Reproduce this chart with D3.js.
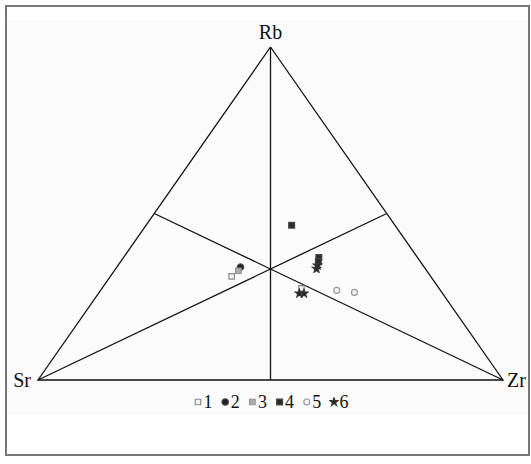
<!DOCTYPE html>
<html>
<head>
    <style>
        body { margin: 0; background: #fff; }
        text { font-family: "Liberation Serif", "Times New Roman", serif; fill: #111; }
        .edge { stroke: #111; stroke-width: 1.3; fill: none; }
    </style>
    <script src="https://d3js.org/d3.v7.min.js"></script>
</head>
<body>
    <svg width="531" height="464"></svg>
    <script>
    // corner labels of the ternary diagram
    var corners = ["Rb", "Sr", "Zr"];

    // sample compositions in percent (Rb + Sr + Zr = 100)
    var rb = [46.5, 33.9, 32.8, 31.1, 36.8, 35.6, 34.4, 33.4, 27.5, 26.0, 26.0, 26.9, 26.3];
    var sr = [22.2, 39.5, 40.5, 42.8, 21.2, 21.9, 22.7, 23.4, 29.6, 30.8, 29.8, 22.3, 18.8];
    var zr = [31.3, 26.6, 26.7, 26.1, 42.0, 42.5, 42.9, 43.2, 42.9, 43.2, 44.2, 50.8, 54.9];
    var group = [4, 2, 3, 1, 4, 4, 6, 6, 1, 6, 6, 5, 5];

    var legendLabels = ["1", "2", "3", "4", "5", "6"];

    function ternary() {
        var svg = d3.select("svg");

        var defs = svg.append("defs");
        defs.append("filter").attr("id", "soft")
            .append("feGaussianBlur").attr("stdDeviation", 0.6);

        svg.append("rect")
           .attr("x", 7).attr("y", 20)
           .attr("width", 521).attr("height", 395)
           .attr("fill", "#fbfbfb");
        svg.append("rect")
           .attr("x", 6).attr("y", 6)
           .attr("width", 523).attr("height", 449)
           .attr("fill", "none")
           .attr("stroke", "#777")
           .attr("stroke-width", 2);

        // barycentric -> plane: u runs Sr->Zr along base, v is Rb height
        var x = d3.scaleLinear().domain([0, 1]).range([38, 503]);
        var y = d3.scaleLinear().domain([0, 1]).range([380, 47]);

        function pos(r, s, z) {
            var t = r + s + z;
            r /= t; z /= t;
            return [x(z + r / 2), y(r)];
        }

        var top = pos(1, 0, 0), left = pos(0, 1, 0), right = pos(0, 0, 1);
        var g = svg.append("g");

        g.append("path")
         .attr("class", "edge")
         .attr("d", d3.line()([top, left, right, top]));

        // medians
        [[top, pos(0, 1, 1)], [left, pos(1, 0, 1)], [right, pos(1, 1, 0)]].forEach(function(m) {
            g.append("path").attr("class", "edge").attr("d", d3.line()(m));
        });

        g.append("text").attr("x", top[0]).attr("y", 39)
         .attr("text-anchor", "middle").style("font-size", "20px").text(corners[0]);
        g.append("text").attr("x", left[0] - 7).attr("y", 387)
         .attr("text-anchor", "end").style("font-size", "20px").text(corners[1]);
        g.append("text").attr("x", right[0] + 4).attr("y", 387)
         .attr("text-anchor", "start").style("font-size", "20px").text(corners[2]);

        var sym = {
            1: { type: d3.symbolSquare, size: 30, fill: "#f2f2f2", stroke: "#8a8a8a" },
            2: { type: d3.symbolCircle, size: 32, fill: "#222", stroke: "#444" },
            3: { type: d3.symbolSquare, size: 30, fill: "#b0b0b0", stroke: "#909090" },
            4: { type: d3.symbolSquare, size: 34, fill: "#2a2a2a", stroke: "#444" },
            5: { type: d3.symbolCircle, size: 28, fill: "#f2f2f2", stroke: "#999" },
            6: { type: d3.symbolStar, size: 20, fill: "#222", stroke: "#333" }
        };

        function drawSymbol(sel, k) {
            sel.attr("d", d3.symbol().type(sym[k].type).size(sym[k].size))
               .attr("fill", sym[k].fill)
               .attr("stroke", sym[k].stroke)
               .attr("stroke-width", 1.2)
               .attr("filter", "url(#soft)");
        }

        var pts = rb.map(function(d, i) { return { p: pos(rb[i], sr[i], zr[i]), k: group[i] }; });

        g.selectAll(".pt")
         .data(pts)
         .enter().append("path")
         .attr("class", "pt")
         .attr("transform", function(d) { return "translate(" + d.p + ")"; })
         .each(function(d) { drawSymbol(d3.select(this), d.k); });

        // legend
        var lx = d3.scalePoint().domain(legendLabels).range([198, 334]);
        var leg = svg.append("g").selectAll(".leg")
                     .data(legendLabels)
                     .enter().append("g")
                     .attr("transform", function(d) { return "translate(" + lx(d) + ",402)"; });

        leg.append("path").each(function(d) { drawSymbol(d3.select(this), +d); });
        leg.append("text").attr("x", 5.5).attr("y", 6)
           .style("font-size", "18px").text(function(d) { return d; });
    }
    ternary();
    </script>
</body>
</html>
